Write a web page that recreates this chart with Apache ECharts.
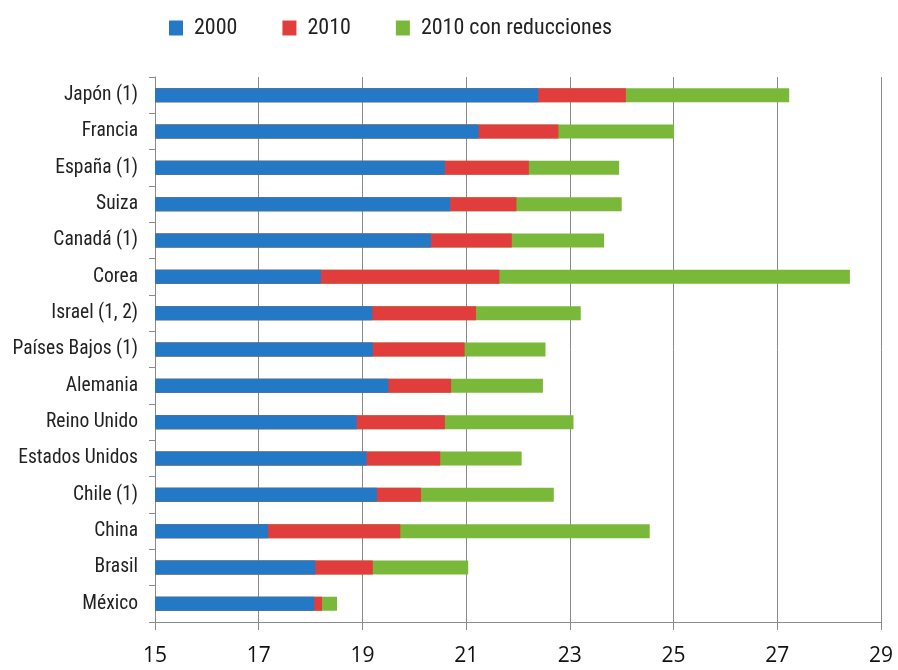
<!DOCTYPE html>
<html>
<head>
<meta charset="utf-8">
<script src="https://cdn.jsdelivr.net/npm/echarts@6/dist/echarts.min.js"></script>
<style>
html,body{margin:0;padding:0;background:#fff;}
#chart{width:898px;height:670px;}
</style>
</head>
<body>
<div id="chart"></div>
<script>
var categories = ['Japón (1)','Francia','España (1)','Suiza','Canadá (1)','Corea','Israel (1, 2)','Países Bajos (1)','Alemania','Reino Unido','Estados Unidos','Chile (1)','China','Brasil','México'];
var v2000 = [22.39,21.24,20.59,20.69,20.32,18.20,19.19,19.20,19.50,18.89,19.08,19.28,17.18,18.09,18.07];
var v2010 = [24.08,22.78,22.21,21.97,21.88,21.64,21.19,20.97,20.71,20.59,20.50,20.13,19.73,19.20,18.22];
var v2010red = [27.23,25.01,23.95,24.00,23.66,28.40,23.21,22.53,22.48,23.07,22.07,22.69,24.54,21.04,18.51];
var xTicks = [15,17,19,21,23,25,27,29];

var labelFont = '"Roboto Condensed", "Liberation Sans", sans-serif';
var chart = echarts.init(document.getElementById('chart'));
chart.setOption({
  animation: false,
  backgroundColor: '#fff',
  legend: {
    data: ['2000','2010','2010 con reducciones'],
    left: 164, top: 12,
    itemWidth: 14, itemHeight: 15, itemGap: 45,
    icon: 'rect',
    textStyle: {fontFamily: labelFont, fontSize: 22, color: '#222', padding: [0,0,0,6]}
  },
  grid: {left: 155, right: 17, top: 77, bottom: 48},
  xAxis: {
    type: 'value', min: xTicks[0], max: xTicks[xTicks.length-1], interval: 2,
    axisLine: {show: true, lineStyle: {color: '#8a8a8a', width: 1}},
    axisTick: {show: true, length: 8, lineStyle: {color: '#8a8a8a'}},
    splitLine: {show: true, lineStyle: {color: '#8a8a8a', width: 1}},
    axisLabel: {fontFamily: '"Open Sans", sans-serif', fontSize: 21, color: '#111', margin: 24}
  },
  yAxis: {
    type: 'category', data: categories, inverse: true,
    axisLine: {show: true, lineStyle: {color: '#8a8a8a', width: 1}},
    axisTick: {show: true, length: 6, lineStyle: {color: '#8a8a8a'}},
    axisLabel: {fontFamily: labelFont, fontSize: 19.5, color: '#222', margin: 17}
  },
  series: [
    {name: '2010 con reducciones', type: 'bar', data: v2010red, barWidth: 14, barGap: '-100%', z: 2, itemStyle: {color: '#7ab83a'}},
    {name: '2010', type: 'bar', data: v2010, barWidth: 14, barGap: '-100%', z: 3, itemStyle: {color: '#e23d3d'}},
    {name: '2000', type: 'bar', data: v2000, barWidth: 14, barGap: '-100%', z: 4, itemStyle: {color: '#2479c6'}}
  ]
});
</script>
</body>
</html>
